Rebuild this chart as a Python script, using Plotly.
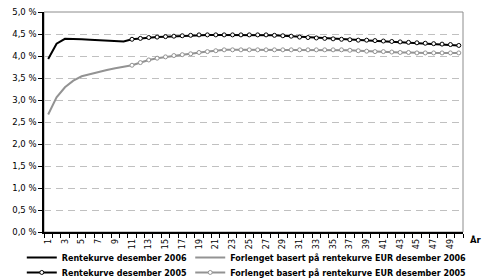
import plotly.graph_objects as go

years_a = list(range(1, 12))
years_b = list(range(11, 51))

rente_2006 = [3.93, 4.28, 4.39, 4.39, 4.38, 4.37, 4.36, 4.36, 4.35, 4.33, 4.38]
rente_2005 = [4.38, 4.40, 4.42, 4.43, 4.44, 4.45, 4.46, 4.47, 4.48, 4.48,
              4.48, 4.48, 4.48, 4.48, 4.48, 4.48, 4.48, 4.47, 4.46, 4.45,
              4.43, 4.42, 4.41, 4.40, 4.39, 4.38, 4.37, 4.36, 4.36, 4.35,
              4.34, 4.33, 4.32, 4.31, 4.30, 4.29, 4.28, 4.27, 4.26, 4.24]
forl_2006 = [2.67, 3.06, 3.29, 3.44, 3.54, 3.59, 3.64, 3.68, 3.72, 3.75, 3.79]
forl_2005 = [3.79, 3.85, 3.91, 3.95, 3.98, 4.01, 4.03, 4.05, 4.08, 4.10,
             4.12, 4.14, 4.14, 4.14, 4.14, 4.14, 4.14, 4.14, 4.14, 4.14,
             4.14, 4.14, 4.14, 4.14, 4.14, 4.14, 4.13, 4.12, 4.11, 4.10,
             4.10, 4.09, 4.08, 4.08, 4.07, 4.07, 4.07, 4.07, 4.07, 4.07]

names = ["Rentekurve desember 2006", "Forlenget basert på rentekurve EUR desember 2006",
         "Rentekurve desember 2005", "Forlenget basert på rentekurve EUR desember 2005"]
x_tick_vals = list(range(1, 50, 2))
y_tick_vals = [i * 0.5 for i in range(11)]
y_tick_text = [f"{v:.1f} %".replace(".", ",") for v in y_tick_vals]

BLACK = "#000000"
GRAY = "#939393"
FONT = "Verdana, DejaVu Sans, sans-serif"

fig = go.Figure()
fig.add_trace(go.Scatter(x=years_a, y=rente_2006, name=names[0], mode="lines",
                         line=dict(color=BLACK, width=2), legend="legend"))
fig.add_trace(go.Scatter(x=years_b, y=rente_2005, name=names[2], mode="lines+markers",
                         line=dict(color=BLACK, width=2), legend="legend3",
                         marker=dict(symbol="circle", size=4, color="white",
                                     line=dict(color=BLACK, width=1))))
fig.add_trace(go.Scatter(x=years_a, y=forl_2006, name=names[1], mode="lines",
                         line=dict(color=GRAY, width=2), legend="legend2"))
fig.add_trace(go.Scatter(x=years_b, y=forl_2005, name=names[3], mode="lines+markers",
                         line=dict(color=GRAY, width=2), legend="legend4",
                         marker=dict(symbol="circle", size=4, color="white",
                                     line=dict(color=GRAY, width=1))))

legend_font = dict(family=FONT, size=8, color="#000000", weight="bold")


def leg(x, y):
    return dict(orientation="v", x=x, xanchor="left", y=y, yanchor="top",
                font=legend_font, bgcolor="rgba(0,0,0,0)", itemwidth=30)


fig.update_layout(
    width=483, height=279,
    margin=dict(l=44, r=20, t=12, b=47, autoexpand=False),
    paper_bgcolor="white", plot_bgcolor="white",
    font=dict(family=FONT, size=8.5, color="#000000"),
    showlegend=True,
    legend=leg(-0.053, -0.05),
    legend2=leg(0.349, -0.05),
    legend3=leg(-0.053, -0.118),
    legend4=leg(0.349, -0.118),
    xaxis=dict(range=[0.5, 50.5], tickmode="array", tickvals=x_tick_vals,
               ticktext=[str(v) for v in x_tick_vals], tickangle=-90,
               ticks="outside", ticklen=2, tickcolor="rgba(0,0,0,0)",
               showgrid=False, zeroline=False,
               showline=True, linecolor=BLACK, linewidth=1.5,
               tickfont=dict(size=8),
               minor=dict(tickmode="array", tickvals=[i + 0.5 for i in range(0, 51)],
                          ticks="outside", ticklen=4, tickcolor=BLACK, tickwidth=1,
                          showgrid=False)),
    yaxis=dict(range=[0, 5], tickmode="array", tickvals=y_tick_vals,
               ticktext=y_tick_text,
               ticks="outside", ticklen=4, tickcolor=BLACK,
               showline=True, linecolor=BLACK, linewidth=1.5,
               showgrid=True, gridcolor="#c0c0c0", gridwidth=1, griddash="7px,5px",
               zeroline=False),
    shapes=[dict(type="rect", xref="paper", yref="paper", x0=0, x1=1, y0=0, y1=1,
                 line=dict(color="#8c8c8c", width=1), layer="below")],
    annotations=[dict(text="<b>År</b>", xref="paper", yref="paper", x=1.031, y=-0.036,
                      xanchor="center", yanchor="middle", showarrow=False,
                      font=dict(size=8.5, family=FONT))],
)

fig.write_html("out.html", config={"displayModeBar": False},
               post_script="document.body.style.margin='0';")
